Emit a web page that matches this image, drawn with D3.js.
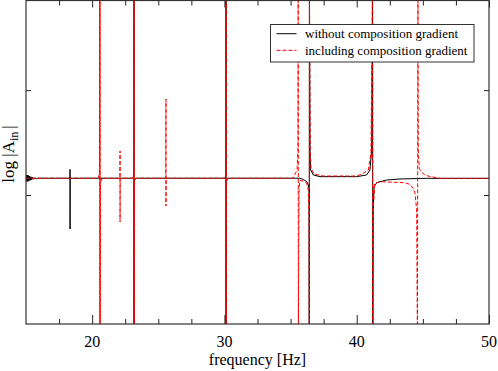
<!DOCTYPE html>
<html>
<head>
<meta charset="utf-8">
<script src="https://cdn.jsdelivr.net/npm/d3@7/dist/d3.min.js"></script>
<style>
	body { margin: 0; background: #fff; }
	svg { display: block; font-family: "Liberation Serif", "DejaVu Serif", serif; }
</style>
</head>
<body>
<div id="chart"></div>
<script>
'use strict';

// frequency [Hz], log |A_in| (arbitrary units)
// poles run off the plot: 1.0 above, -2.4 below
var withoutGradient = [
	[15.00,-0.81],[15.03,-0.87],[15.06,-0.81],[15.09,-0.87],[15.12,-0.81],[15.15,-0.87],
	[15.19,-0.815],[15.23,-0.865],[15.27,-0.82],[15.32,-0.86],[15.37,-0.825],[15.43,-0.855],
	[15.50,-0.83],[15.58,-0.85],[15.67,-0.835],[15.77,-0.845],[15.90,-0.84],
	[18.32,-0.84],[18.33,-0.755],[18.33,-1.324],[18.34,-0.84],
	[23.05,-0.84],[23.14,-0.82],[23.155,-0.78],[23.16,1.0],[23.165,-2.4],[23.17,-0.88],
	[23.22,-0.85],[23.35,-0.84],
	[30.05,-0.84],[30.11,-0.82],[30.12,1.0],[30.125,-2.4],[30.13,-0.86],[30.20,-0.84],
	[35.70,-0.84],[35.96,-0.851],[36.22,-0.873],[36.34,-0.90],[36.40,-0.95],[36.415,-2.4],
	[36.425,1.0],[36.47,-0.571],[36.52,-0.762],[36.72,-0.809],[37.22,-0.825],[40.00,-0.825],
	[40.75,-0.809],[41.00,-0.762],[41.13,-0.571],[41.20,1.0],[41.215,-2.4],[41.25,-1.143],
	[41.31,-0.921],[41.51,-0.883],[41.76,-0.873],[42.27,-0.857],[43.27,-0.847],[45.29,-0.841],
	[50.00,-0.841]
];

var includingGradient = [
	[15.00,-0.84],[20.45,-0.84],[20.55,-0.80],
	[20.57,1.0],[20.585,-2.4],[20.595,1.0],[20.61,-2.4],[20.63,-0.88],[20.75,-0.84],
	[22.10,-0.84],[22.11,-0.58],[22.11,-1.257],[22.12,-0.84],
	[23.05,-0.84],[23.13,-0.80],
	[23.14,1.0],[23.155,-2.4],[23.165,1.0],[23.18,-2.4],[23.19,-0.88],[23.30,-0.84],
	[25.57,-0.84],[25.58,-0.085],[25.58,-1.105],[25.59,-0.84],
	[30.05,-0.84],[30.10,-0.80],
	[30.105,1.0],[30.115,-2.4],[30.125,1.0],[30.135,-2.4],[30.14,-0.88],[30.25,-0.84],
	[35.18,-0.84],[35.49,-0.762],[35.56,-0.571],[35.575,1.0],[35.59,-2.4],[35.64,-0.95],
	[35.70,-0.862],[35.96,-0.866],[36.22,-0.888],[36.34,-0.952],[36.40,-1.2],[36.415,-2.4],
	[36.425,1.0],[36.49,-0.60],[36.54,-0.745],[36.77,-0.800],[37.47,-0.819],[40.00,-0.819],
	[40.38,-0.800],[40.87,-0.762],[41.08,-0.60],[41.19,1.0],[41.22,-2.4],[41.25,-1.143],
	[41.36,-0.888],[41.76,-0.873],[43.65,-0.883],[44.03,-0.90],[44.28,-0.936],[44.41,-0.984],
	[44.53,-1.143],[44.59,-2.4],[44.63,1.0],[44.65,-0.571],[44.73,-0.745],[44.86,-0.778],
	[45.16,-0.809],[45.39,-0.819],[46.30,-0.841],[50.00,-0.841]
];

var xMajor = [20, 30, 40, 50];
var xMinor = [17.5, 22.5, 25, 27.5, 32.5, 35, 37.5, 42.5, 45, 47.5];
var yMinor = [0, -1];

var seriesNames = ["without composition gradient", "including composition gradient"];

var W = 498, H = 371;
var box = { l: 26, r: 489, t: 0.5, b: 324 };
var dash = "4,2";

var svg = d3.select("#chart").append("svg")
	.attr("width", W)
	.attr("height", H);

var x = d3.scaleLinear().domain([15, 50]).range([box.l, box.r]);
var y = d3.scaleLinear().domain([-2.23, 0.85]).range([box.b, box.t + 0.5]);

svg.append("clipPath").attr("id", "plot-clip")
	.append("rect")
	.attr("x", box.l).attr("y", box.t)
	.attr("width", box.r - box.l).attr("height", box.b - box.t);

var line = d3.line()
	.x(function(d) { return x(d[0]); })
	.y(function(d) { return y(d[1]); });

var plot = svg.append("g").attr("clip-path", "url(#plot-clip)");

plot.append("path")
	.datum(withoutGradient)
	.attr("d", line)
	.attr("fill", "none")
	.attr("stroke", "#000")
	.attr("stroke-width", 1);

plot.append("path")
	.datum(includingGradient)
	.attr("d", line)
	.attr("fill", "none")
	.attr("stroke", "#ff0000")
	.attr("stroke-width", 1)
	.attr("stroke-dasharray", dash);

// ticks, inward on all four sides
function tickAxis(axisFn, scale, values, size, tr) {
	var g = svg.append("g").attr("transform", tr)
		.call(axisFn(scale).tickValues(values).tickSize(size).tickFormat(""));
	g.select(".domain").remove();
	g.selectAll(".tick line").attr("stroke", "#222");
	return g;
}

tickAxis(d3.axisTop, x, xMajor, 9, `translate(0,${box.b})`);
tickAxis(d3.axisTop, x, xMinor, 5, `translate(0,${box.b})`);
tickAxis(d3.axisBottom, x, xMajor, 7, `translate(0,${box.t})`);
tickAxis(d3.axisBottom, x, xMinor, 5, `translate(0,${box.t})`);
tickAxis(d3.axisRight, y, yMinor, 5, `translate(${box.l},0)`);
tickAxis(d3.axisLeft, y, yMinor, 5, `translate(${box.r},0)`);

svg.append("rect")
	.attr("x", box.l).attr("y", box.t)
	.attr("width", box.r - box.l).attr("height", box.b - box.t)
	.attr("fill", "none")
	.attr("stroke", "#333")
	.attr("stroke-width", 1.2);

// tick labels
svg.append("g").selectAll("text")
	.data(xMajor)
	.join("text")
	.attr("x", function(d) { return x(d); })
	.attr("y", 347)
	.attr("text-anchor", "middle")
	.attr("font-size", 16)
	.text(function(d) { return d; });

svg.append("text")
	.attr("x", (box.l + box.r) / 2)
	.attr("y", 365)
	.attr("text-anchor", "middle")
	.attr("font-size", 16)
	.text("frequency [Hz]");

var yl = svg.append("text")
	.attr("transform", "translate(14,154) rotate(-90)")
	.attr("text-anchor", "middle")
	.attr("font-size", 17);
yl.append("tspan").text("log |A");
yl.append("tspan").attr("font-size", 12).attr("dy", 4).text("in");
yl.append("tspan").attr("dy", -4).attr("dx", 3).text("|");

// legend
var lg = svg.append("g").attr("transform", "translate(270.5,24.5)");
lg.append("rect")
	.attr("width", 203.5).attr("height", 37.5)
	.attr("fill", "#fff")
	.attr("stroke", "#333");

lg.selectAll("g.item")
	.data(seriesNames)
	.join("g")
	.attr("class", "item")
	.attr("transform", function(d, i) { return `translate(0,${9.2 + i * 16.6})`; })
	.each(function(d, i) {
		var it = d3.select(this);
		it.append("line")
			.attr("x1", 6).attr("x2", 26)
			.attr("stroke", i ? "#ff0000" : "#000")
			.attr("stroke-dasharray", i ? dash : null);
		it.append("text")
			.attr("x", 34.5).attr("y", 4.3)
			.attr("font-size", 13)
			.text(d);
	});
</script>
</body>
</html>
